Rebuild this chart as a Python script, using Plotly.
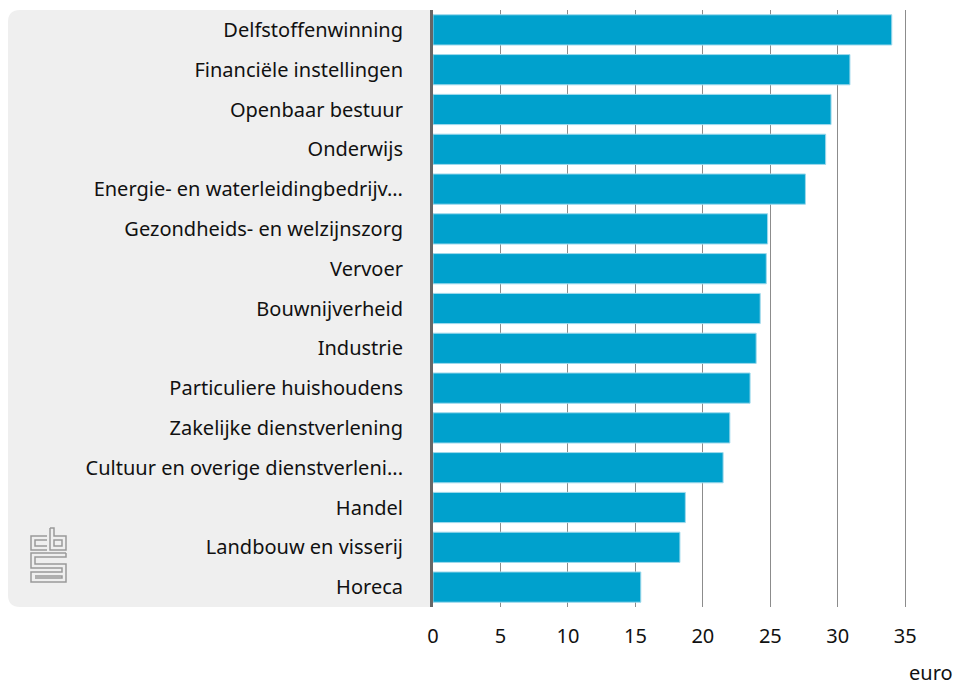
import plotly.graph_objects as go

categories = ["Delfstoffenwinning", "Financiële instellingen", "Openbaar bestuur", "Onderwijs",
              "Energie- en waterleidingbedrijv...", "Gezondheids- en welzijnszorg", "Vervoer",
              "Bouwnijverheid", "Industrie", "Particuliere huishoudens", "Zakelijke dienstverlening",
              "Cultuur en overige dienstverleni...", "Handel", "Landbouw en visserij", "Horeca"]
values = [34.0, 30.9, 29.5, 29.1, 27.6, 24.8, 24.7, 24.25, 23.95, 23.5, 22.0, 21.5, 18.7, 18.3, 15.4]
x_ticks = [0, 5, 10, 15, 20, 25, 30, 35]
unit_label = "euro"

W, H = 960, 688
L, R, T, B = 433, 21, 10, 81
PW, PH = W - L - R, H - T - B

def px(x):
    return (x - L) / PW

def py(y):
    return (H - B - y) / PH

fig = go.Figure(go.Bar(
    x=values, y=categories, orientation="h",
    marker=dict(color="#00a1cd", line=dict(color="#9fd9ec", width=1)),
    hoverinfo="x+y",
))

# grey rounded panel behind labels
x0, x1, y0, y1, r = 8, 432, 10, 607, 12
path = (f"M {px(x0+r)},{py(y0)} L {px(x1)},{py(y0)} L {px(x1)},{py(y1)} L {px(x0+r)},{py(y1)} "
        f"Q {px(x0)},{py(y1)} {px(x0)},{py(y1-r)} L {px(x0)},{py(y0+r)} "
        f"Q {px(x0)},{py(y0)} {px(x0+r)},{py(y0)} Z")
shapes = [dict(type="path", path=path, xref="paper", yref="paper", fillcolor="#efefef",
               line=dict(width=0), layer="below")]

# CBS logo (outline approximation)
logo_col = "#9a9a9a"
def rect(a, b, c, d):
    return dict(type="rect", xref="paper", yref="paper", x0=px(a), x1=px(c), y0=py(b), y1=py(d),
                line=dict(color=logo_col, width=1.5), fillcolor="rgba(0,0,0,0)")
def line(pts):
    p = "M " + " L ".join(f"{px(a)},{py(b)}" for a, b in pts)
    return dict(type="path", path=p, xref="paper", yref="paper", line=dict(color=logo_col, width=1.5))

# c
shapes.append(line([(47, 536), (31, 536), (31, 550), (47, 550)]))
shapes.append(line([(47, 540), (35, 540), (35, 546), (47, 546)]))
# b
shapes.append(line([(50, 528), (50, 550), (66, 550), (66, 536), (54, 536), (54, 528), (50, 528)]))
shapes.append(rect(54, 540, 62, 546))
# S
shapes.append(line([(66, 553), (31, 553), (31, 568), (62, 568), (62, 572), (31, 572), (31, 582),
                    (66, 582), (66, 564), (35, 564), (35, 557), (66, 557), (66, 553)]))
shapes.append(line([(35, 576), (62, 576), (62, 578), (35, 578)]))

fig.update_layout(
    width=W, height=H,
    margin=dict(l=L, r=R, t=T, b=B),
    plot_bgcolor="white", paper_bgcolor="white",
    font=dict(family="Noto Sans", size=20, color="#111"),
    bargap=0.24,
    showlegend=False,
    shapes=shapes,
    xaxis=dict(range=[0, 37.5], tickvals=x_ticks, showgrid=True, gridcolor="#8c8c8c", gridwidth=1,
               zeroline=False, showline=False, ticks="", ticklabelstandoff=15,
               tickfont=dict(size=20, color="#111"), fixedrange=True),
    yaxis=dict(autorange="reversed", showline=True, linecolor="#666666", linewidth=3,
               ticks="", ticklabelstandoff=23, tickfont=dict(size=20, color="#111"),
               showgrid=False, fixedrange=True),
    annotations=[dict(text=unit_label, xref="paper", yref="paper", x=px(955), y=py(672),
                      xanchor="right", yanchor="middle", showarrow=False,
                      font=dict(size=20, color="#111"))],
)

fig.write_html("out.html", config={"displayModeBar": False},
               post_script="document.body.style.margin='0';document.body.style.overflow='hidden';")
